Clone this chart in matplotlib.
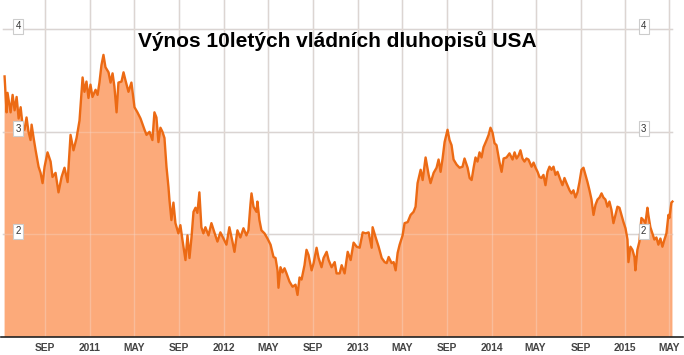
import matplotlib
matplotlib.use("Agg")
import matplotlib.pyplot as plt
import matplotlib.dates as mdates
import pandas as pd
import numpy as np

title = "Výnos 10letých vládních dluhopisů USA"

# decimal-year time stamps and 10y yields (%)
t_years = [
    2010.363, 2010.378, 2010.385, 2010.408, 2010.423, 2010.438, 2010.453, 2010.468, 2010.483, 2010.497,
    2010.512, 2010.527, 2010.542, 2010.557, 2010.565, 2010.580, 2010.595, 2010.617, 2010.632, 2010.647,
    2010.662, 2010.684, 2010.707, 2010.721, 2010.744, 2010.766, 2010.789, 2010.811, 2010.834, 2010.856,
    2010.878, 2010.901, 2010.923, 2010.946, 2010.960, 2010.975, 2010.990, 2011.005, 2011.020, 2011.043,
    2011.058, 2011.072, 2011.087, 2011.102, 2011.117, 2011.140, 2011.155, 2011.170, 2011.184, 2011.200,
    2011.214, 2011.237, 2011.252, 2011.267, 2011.289, 2011.311, 2011.334, 2011.356, 2011.379, 2011.409,
    2011.424, 2011.446, 2011.468, 2011.483, 2011.498, 2011.513, 2011.528, 2011.543, 2011.558, 2011.573,
    2011.588, 2011.595, 2011.610, 2011.625, 2011.640, 2011.662, 2011.677, 2011.692, 2011.715, 2011.730,
    2011.745, 2011.760, 2011.775, 2011.790, 2011.804, 2011.819, 2011.834, 2011.849, 2011.864, 2011.887,
    2011.909, 2011.931, 2011.954, 2011.976, 2011.999, 2012.021, 2012.043, 2012.066, 2012.081, 2012.103,
    2012.125, 2012.148, 2012.170, 2012.185, 2012.200, 2012.208, 2012.223, 2012.245, 2012.252, 2012.267,
    2012.282, 2012.305, 2012.327, 2012.350, 2012.372, 2012.387, 2012.402, 2012.409, 2012.424, 2012.439,
    2012.454, 2012.469, 2012.491, 2012.514, 2012.536, 2012.551, 2012.566, 2012.581, 2012.603, 2012.618,
    2012.633, 2012.656, 2012.671, 2012.693, 2012.708, 2012.730, 2012.745, 2012.768, 2012.783, 2012.805,
    2012.828, 2012.842, 2012.865, 2012.880, 2012.902, 2012.925, 2012.947, 2012.969, 2012.992, 2013.014,
    2013.037, 2013.059, 2013.081, 2013.104, 2013.111, 2013.134, 2013.156, 2013.179, 2013.201, 2013.216,
    2013.231, 2013.253, 2013.268, 2013.283, 2013.298, 2013.313, 2013.335, 2013.350, 2013.373, 2013.395,
    2013.417, 2013.432, 2013.447, 2013.470, 2013.485, 2013.507, 2013.530, 2013.544, 2013.567, 2013.589,
    2013.604, 2013.619, 2013.634, 2013.649, 2013.671, 2013.686, 2013.701, 2013.716, 2013.739, 2013.761,
    2013.783, 2013.798, 2013.821, 2013.836, 2013.851, 2013.866, 2013.880, 2013.895, 2013.910, 2013.925,
    2013.940, 2013.963, 2013.978, 2013.992, 2014.008, 2014.022, 2014.037, 2014.060, 2014.075, 2014.090,
    2014.112, 2014.134, 2014.157, 2014.172, 2014.187, 2014.202, 2014.216, 2014.231, 2014.246, 2014.261,
    2014.276, 2014.299, 2014.314, 2014.329, 2014.344, 2014.358, 2014.373, 2014.388, 2014.403, 2014.418,
    2014.433, 2014.448, 2014.463, 2014.478, 2014.493, 2014.515, 2014.530, 2014.545, 2014.560, 2014.583,
    2014.597, 2014.612, 2014.627, 2014.642, 2014.657, 2014.672, 2014.687, 2014.702, 2014.717, 2014.732,
    2014.747, 2014.762, 2014.777, 2014.792, 2014.807, 2014.822, 2014.836, 2014.851, 2014.866, 2014.881,
    2014.896, 2014.911, 2014.926, 2014.941, 2014.956, 2014.971, 2014.986, 2015.001, 2015.016, 2015.023,
    2015.038, 2015.053, 2015.068, 2015.075, 2015.090, 2015.105, 2015.120, 2015.135, 2015.150, 2015.165,
    2015.172, 2015.187, 2015.202, 2015.217, 2015.232, 2015.247, 2015.262, 2015.277, 2015.292, 2015.307,
    2015.322, 2015.329, 2015.344, 2015.352,
]
yields = [
    3.54, 3.19, 3.38, 3.19, 3.36, 3.21, 3.34, 3.13, 3.24, 3.07,
    3.02, 3.14, 3.00, 2.92, 3.07, 2.94, 2.82, 2.66, 2.60, 2.50,
    2.66, 2.80, 2.71, 2.56, 2.60, 2.41, 2.56, 2.65, 2.51, 2.97,
    2.82, 2.94, 3.11, 3.53, 3.39, 3.49, 3.33, 3.46, 3.34, 3.41,
    3.36, 3.48, 3.65, 3.75, 3.63, 3.58, 3.48, 3.57, 3.44, 3.19,
    3.48, 3.49, 3.58, 3.50, 3.39, 3.48, 3.24, 3.19, 3.13, 3.02,
    2.97, 3.00, 2.92, 3.19, 3.14, 2.90, 3.04, 3.00, 2.94, 2.66,
    2.46, 2.34, 2.14, 2.31, 2.11, 2.01, 2.09, 1.95, 1.75, 1.99,
    1.77, 1.97, 2.22, 2.26, 2.21, 2.41, 2.07, 2.01, 2.07, 1.99,
    2.11, 2.02, 1.93, 2.02, 1.96, 1.90, 2.07, 1.93, 1.83, 2.04,
    1.97, 2.06, 1.99, 2.04, 2.29, 2.40, 2.27, 2.22, 2.32, 2.14,
    2.04, 2.01, 1.96, 1.90, 1.78, 1.77, 1.65, 1.48, 1.68, 1.63,
    1.67, 1.62, 1.54, 1.49, 1.51, 1.41, 1.58, 1.56, 1.70, 1.85,
    1.80, 1.65, 1.72, 1.87, 1.77, 1.68, 1.77, 1.83, 1.75, 1.68,
    1.73, 1.62, 1.62, 1.70, 1.62, 1.83, 1.75, 1.92, 1.88, 1.87,
    2.02, 2.01, 2.02, 1.87, 2.07, 1.97, 1.88, 1.77, 1.73, 1.72,
    1.78, 1.72, 1.73, 1.65, 1.82, 1.90, 1.99, 2.11, 2.12, 2.19,
    2.22, 2.27, 2.50, 2.63, 2.53, 2.75, 2.58, 2.50, 2.60, 2.65,
    2.73, 2.61, 2.74, 2.90, 3.02, 2.92, 2.87, 2.73, 2.68, 2.65,
    2.66, 2.74, 2.65, 2.55, 2.53, 2.65, 2.75, 2.71, 2.80, 2.75,
    2.85, 2.92, 2.97, 3.04, 2.99, 2.89, 2.87, 2.70, 2.61, 2.74,
    2.75, 2.79, 2.73, 2.80, 2.74, 2.77, 2.82, 2.74, 2.71, 2.74,
    2.73, 2.66, 2.70, 2.65, 2.61, 2.56, 2.55, 2.58, 2.48, 2.61,
    2.66, 2.63, 2.66, 2.58, 2.61, 2.53, 2.48, 2.55, 2.50, 2.43,
    2.40, 2.43, 2.36, 2.41, 2.51, 2.63, 2.65, 2.58, 2.51, 2.43,
    2.34, 2.19, 2.29, 2.34, 2.36, 2.40, 2.36, 2.34, 2.27, 2.32,
    2.24, 2.11, 2.19, 2.27, 2.26, 2.19, 2.12, 2.06, 1.95, 1.73,
    1.88, 1.85, 1.78, 1.65, 1.85, 1.93, 2.16, 2.14, 2.11, 2.26,
    2.19, 2.07, 2.01, 1.95, 1.97, 1.90, 1.96, 1.88, 1.95, 2.01,
    2.19, 2.16, 2.31, 2.32,
]

y_ticks = [2, 3, 4]
x_tick_dates = ["2010-09-01", "2011-01-01", "2011-05-01", "2011-09-01", "2012-01-01",
                "2012-05-01", "2012-09-01", "2013-01-01", "2013-05-01", "2013-09-01",
                "2014-01-01", "2014-05-01", "2014-09-01", "2015-01-01", "2015-05-01"]
x_tick_labels = ["SEP", "2011", "MAY", "SEP", "2012", "MAY", "SEP", "2013", "MAY", "SEP",
                 "2014", "MAY", "SEP", "2015", "MAY"]
x_range = ("2010-05-01", "2015-06-10")


def to_date(t):
    y = int(np.floor(t))
    start = pd.Timestamp(year=y, month=1, day=1)
    ndays = (pd.Timestamp(year=y + 1, month=1, day=1) - start).days
    return start + pd.Timedelta(days=(t - y) * ndays)


def num(d):
    return mdates.date2num(pd.Timestamp(d).to_pydatetime())


dates = [to_date(t).to_pydatetime() for t in t_years]

plt.rcParams['font.family'] = ['Liberation Sans', 'DejaVu Sans']

fig = plt.figure(figsize=(6.84, 3.55), dpi=100)
ax = fig.add_axes([0, 18 / 355, 1, 1 - 18 / 355])
ax.set_xlim(num(x_range[0]), num(x_range[1]))
ax.set_ylim(1.0, 4.285)

grid_c = "#d0d0d0"
tick_pos = [num(d) for d in x_tick_dates]
for d in tick_pos:
    ax.axvline(d, color=grid_c, lw=1.0, zorder=1)
    ax.axvline(d, color="#f4e0d8", lw=1.0, alpha=0.35, zorder=2.5)
for yv in y_ticks:
    ax.axhline(yv, xmin=0.004, xmax=672 / 684, color=grid_c, lw=1.0, zorder=1)
    ax.axhline(yv, xmin=0.004, xmax=672 / 684, color="#f4e0d8", lw=1.0, alpha=0.3, zorder=2.5)

ax.fill_between(dates, yields, 0, color="#fcaa7a", lw=0, zorder=2)
ax.plot(dates, yields, color="#ec6a14", lw=1.7, zorder=3, solid_joinstyle="round")

for s in ["left", "right", "top"]:
    ax.spines[s].set_visible(False)
ax.spines["bottom"].set_color("#222222")
ax.spines["bottom"].set_linewidth(1.2)
ax.spines["bottom"].set_bounds(num("2010-05-05"), num("2015-06-06"))

ax.set_yticks([])
ax.set_xticks(tick_pos)
ax.set_xticklabels(x_tick_labels, fontsize=7.4, fontweight="bold", color="#444444")
ax.tick_params(axis="x", length=0, pad=4)

box = dict(boxstyle="square,pad=0.25", facecolor="white", edgecolor="#cccccc", lw=0.8)
left_x = num("2010-06-20")
right_x = num("2015-02-20")
for yv in y_ticks:
    ax.text(left_x, yv + 0.03, str(yv), fontsize=7, color="#333333", ha="center",
            va="center", bbox=box, zorder=5)
    ax.text(right_x, yv + 0.03, str(yv), fontsize=7, color="#333333", ha="center",
            va="center", bbox=box, zorder=5)

fig.text(337 / 684, 1 - 41 / 355, title, fontsize=15, fontweight="bold",
         ha="center", va="center", color="#000000")

fig.savefig("out.png", dpi=100)
